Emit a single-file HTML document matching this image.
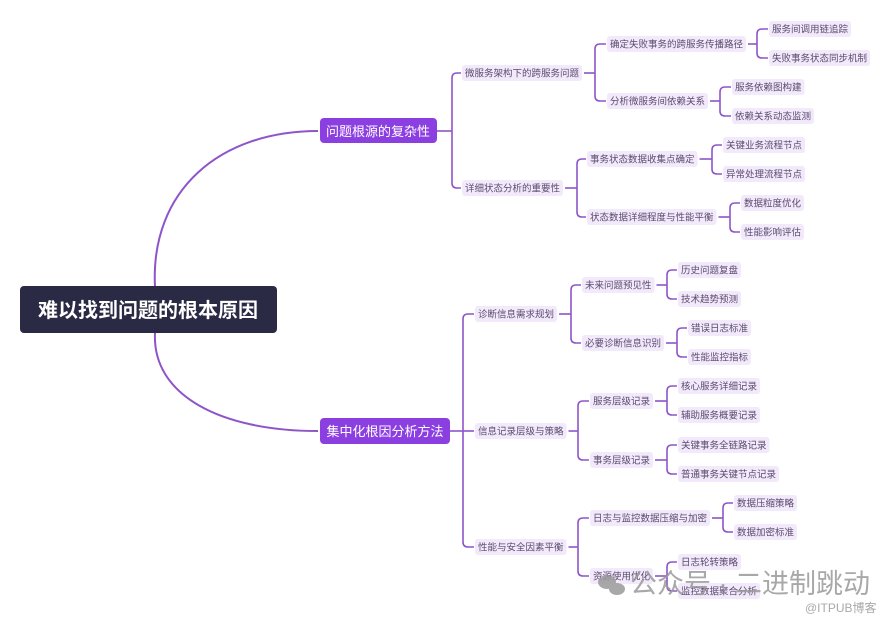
<!DOCTYPE html>
<html><head><meta charset="utf-8"><style>
html,body{margin:0;padding:0;background:#fff;width:890px;height:621px;overflow:hidden}
svg{display:block;font-family:"Liberation Sans","Noto Sans CJK SC",sans-serif}
</style></head><body>
<svg id="s" width="890" height="621" viewBox="0 0 890 621" xmlns="http://www.w3.org/2000/svg">
<g id="lines" fill="none" stroke="#8e55c9" stroke-width="1.6"></g>
<path d="M155,287 C150,190 220,131 318,131" fill="none" stroke="#8e55c9" stroke-width="2"/>
<path d="M155,333 C152,395 220,431 318,431" fill="none" stroke="#8e55c9" stroke-width="2"/>
<rect x="20" y="286" width="257" height="47" rx="4" fill="#2b2a45"/>
<text x="148" y="317" font-size="20" font-weight="bold" fill="#fff" text-anchor="middle">难以找到问题的根本原因</text>
<rect x="320" y="118" width="117" height="25" rx="4" fill="#8c3fe0"/>
<text x="378" y="136" font-size="13" fill="#fff" text-anchor="middle">问题根源的复杂性</text>
<rect x="320" y="418" width="130" height="26" rx="4" fill="#8c3fe0"/>
<text x="385" y="436" font-size="13" fill="#fff" text-anchor="middle">集中化根因分析方法</text>
<g id="nodes"></g>
<g fill="#9a9a9a" opacity="0.85">
<ellipse cx="607" cy="582" rx="9" ry="7"/><ellipse cx="617" cy="589" rx="8" ry="6"/>
<text x="630" y="593" font-size="27">公众号 · 二进制跳动</text>
<text x="805" y="612" font-size="12">@ITPUB博客</text>
</g>
</svg>
<script>
var NS="http://www.w3.org/2000/svg";
var L=document.getElementById('lines'),N=document.getElementById('nodes');
function el(t,a,p){var e=document.createElementNS(NS,t);for(var k in a)e.setAttribute(k,a[k]);p.appendChild(e);return e;}
function node(t,x,y){
  var tx=el('text',{x:x,y:y+3.5,'font-size':9.5,fill:'#5b4b6e'},N);tx.textContent=t;
  var w=tx.getComputedTextLength();
  var r=el('rect',{x:x-3,y:y-8,width:w+6,height:16,rx:3,fill:'#f2e9fb'},N);
  N.insertBefore(r,tx);return x+w;
}
function br(pe,py,bx,kids){
  el('path',{d:'M'+(pe+5)+','+py+' H'+bx},L);
  var ys=kids.map(function(k){return k[2]});var y1=Math.min.apply(0,ys),y2=Math.max.apply(0,ys);
  var r=5;
  el('path',{d:'M'+bx+','+(y1+r)+' V'+(y2-r)},L);
  kids.forEach(function(k){
    var y=k[2],d;
    if(y===y1) d='M'+bx+','+(y+r)+' Q'+bx+','+y+' '+(bx+r)+','+y+' H'+(k[1]-4);
    else if(y===y2) d='M'+bx+','+(y-r)+' Q'+bx+','+y+' '+(bx+r)+','+y+' H'+(k[1]-4);
    else d='M'+bx+','+y+' H'+(k[1]-4);
    el('path',{d:d},L);
  });
}
function tree(pe,py,bx,kids){
  br(pe,py,bx,kids);
  kids.forEach(function(k){var e=node(k[0],k[1],k[2]);if(k[3])tree(e,k[2],k[3],k[4]);});
}
tree(432,131,452,[
 ['微服务架构下的跨服务问题',465,73,595,[
   ['确定失败事务的跨服务传播路径',610,44,757,[['服务间调用链追踪',772,29],['失败事务状态同步机制',772,58]]],
   ['分析微服务间依赖关系',610,101,720,[['服务依赖图构建',735,87],['依赖关系动态监测',735,116]]]]],
 ['详细状态分析的重要性',465,188,577,[
   ['事务状态数据收集点确定',590,159,712,[['关键业务流程节点',726,145],['异常处理流程节点',726,174]]],
   ['状态数据详细程度与性能平衡',590,217,730,[['数据粒度优化',744,203],['性能影响评估',744,232]]]]]
]);
tree(445,431,463,[
 ['诊断信息需求规划',478,314,571,[
   ['未来问题预见性',585,285,667,[['历史问题复盘',681,270],['技术趋势预测',681,299]]],
   ['必要诊断信息识别',585,343,677,[['错误日志标准',691,328],['性能监控指标',691,357]]]]],
 ['信息记录层级与策略',478,431,578,[
   ['服务层级记录',593,401,667,[['核心服务详细记录',681,386],['辅助服务概要记录',681,415]]],
   ['事务层级记录',593,460,667,[['关键事务全链路记录',681,445],['普通事务关键节点记录',681,474]]]]],
 ['性能与安全因素平衡',478,547,578,[
   ['日志与监控数据压缩与加密',593,518,723,[['数据压缩策略',737,503],['数据加密标准',737,532]]],
   ['资源使用优化',593,576,667,[['日志轮转策略',681,562],['监控数据聚合分析',681,591]]]]]
]);
</script>
</body></html>
